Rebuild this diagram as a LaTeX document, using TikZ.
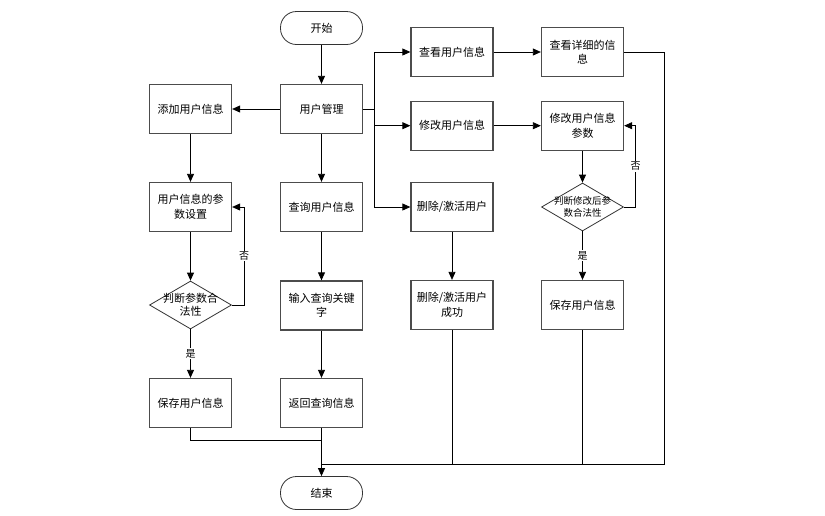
\documentclass[tikz,border=0pt]{standalone}
\usepackage{fontspec}
\newfontfamily\cjk{Noto Sans CJK SC}
\usetikzlibrary{shapes.geometric,arrows.meta}
\begin{document}
\begin{tikzpicture}[x=1pt,y=-1pt,
  box/.style={draw=black!70, line width=1.3pt, fill=white, minimum width=82pt, minimum height=49pt,
    align=center, inner sep=1pt, font=\cjk\fontsize{11}{14.5}\selectfont},
  term/.style={draw=black!80, line width=0.8pt, fill=white, rounded corners=16pt, minimum width=82pt,
    minimum height=33pt, font=\cjk\fontsize{11}{14}\selectfont},
  dec/.style={diamond, draw=black!80, line width=0.8pt, fill=white, minimum width=82pt, minimum height=48pt,
    inner sep=0pt},
  dtext/.style={align=center, inner sep=0pt, font=\cjk\fontsize{11}{13.5}\selectfont},
  dtexts/.style={align=center, inner sep=0pt, font=\cjk\fontsize{9.5}{12.5}\selectfont},
  arr/.style={draw=black, line width=0.8pt, -{Triangle[length=8pt,width=7pt]}},
  ln/.style={draw=black, line width=0.8pt},
  lbl/.style={fill=white, inner sep=1pt, font=\cjk\fontsize{10}{12}\selectfont}
]
\useasboundingbox (0,0) rectangle (825,515);

% nodes
\node[term] (start) at (321.5,28) {开始};
\node[box] (mgr) at (321.5,109) {用户管理};
\node[box] (add) at (190.5,109) {添加用户信息};
\node[box] (param) at (190.5,207) {用户信息的参\\数设置};
\node[dec] (chk1) at (190.5,305) {};
\node[dtext] (chk1t) at (190.5,305) {判断参数合\\法性};
\node[box] (save1) at (190.5,403) {保存用户信息};
\node[box] (query) at (321.5,207) {查询用户信息};
\node[box] (kw) at (321.5,305.5) {输入查询关键\\字};
\node[box] (ret) at (321.5,403) {返回查询信息};
\node[term] (end) at (321.5,493) {结束};
\node[box] (view) at (452,52) {查看用户信息};
\node[box] (detail) at (582.5,52) {查看详细的信\\息};
\node[box] (modify) at (452,125.7) {修改用户信息};
\node[box] (modp) at (582.5,125.7) {修改用户信息\\参数};
\node[box] (del) at (452,207) {删除/激活用户};
\node[box] (delok) at (452,305) {删除/激活用户\\成功};
\node[dec] (chk2) at (582.5,207) {};
\node[dtexts] (chk2t) at (582.5,207) {判断修改后参\\数合法性};
\node[box] (save2) at (582.5,305) {保存用户信息};

% helper coordinates
\coordinate (b0) at (374,109);
\coordinate (n1a) at (244,305);
\coordinate (n1b) at (244,207);
\coordinate (n2a) at (635.7,207);
\coordinate (n2b) at (635.7,125.7);
\coordinate (j1) at (321.5,440);
\coordinate (j2) at (321.5,464);
\coordinate (r1) at (664,52);
\coordinate (r2) at (664,464);
\coordinate (d1) at (452,464);
\coordinate (s1) at (582.5,464);

% connectors
\draw[arr] (start) -- (mgr);
\draw[arr] (mgr) -- (add);
\draw[arr] (mgr) -- (query);
\draw[arr] (add) -- (param);
\draw[arr] (param) -- (chk1);
\draw[arr] (chk1.east) -- (n1a) -- node[lbl]{否} (n1b) -- (param.east);
\draw[arr] (chk1.south) -- node[lbl]{是} (save1.north);
\draw[ln] (save1.south) |- (j1);
\draw[arr] (query) -- (kw);
\draw[arr] (kw) -- (ret);
\draw[arr] (ret) -- (end);
\draw[ln] (mgr.east) -- (b0);
\draw[arr] (b0) |- (view.west);
\draw[arr] (b0) |- (modify.west);
\draw[arr] (b0) |- (del.west);
\draw[arr] (view) -- (detail);
\draw[arr] (modify) -- (modp);
\draw[arr] (modp) -- (chk2);
\draw[arr] (chk2.east) -- (n2a) -- node[lbl]{否} (n2b) -- (modp.east);
\draw[arr] (chk2.south) -- node[lbl]{是} (save2.north);
\draw[arr] (del) -- (delok);
\draw[ln] (detail.east) -- (r1) -- (r2) -- (j2);
\draw[ln] (delok.south) -- (d1);
\draw[ln] (save2.south) -- (s1);
\end{tikzpicture}
\end{document}
